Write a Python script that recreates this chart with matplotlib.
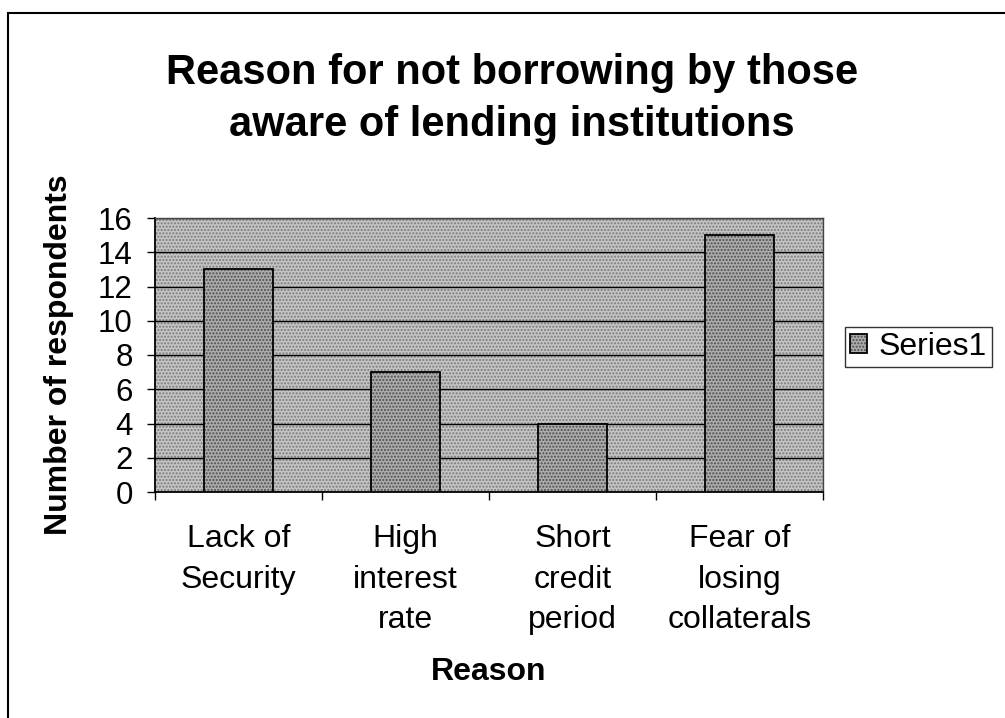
import matplotlib
matplotlib.use("Agg")
import matplotlib.pyplot as plt
from matplotlib.patches import Rectangle

categories = ["Lack of\nSecurity", "High\ninterest\nrate", "Short\ncredit\nperiod", "Fear of\nlosing\ncollaterals"]
values = [13, 7, 4, 15]
series_name = "Series1"
yticks = [0, 2, 4, 6, 8, 10, 12, 14, 16]

plt.rcParams['font.family'] = ['Liberation Sans', 'DejaVu Sans']
plt.rcParams['hatch.linewidth'] = 1.0

fig = plt.figure(figsize=(10.05, 7.18), dpi=100)
fig.patch.set_facecolor('white')

# outer chart frame
fig.patches.append(Rectangle((8/1005, -0.05), 1.1, 1 - 13/718 + 0.05, transform=fig.transFigure,
                             fill=False, edgecolor='black', linewidth=1.5))

ax = fig.add_axes([155/1005, 1 - 492/718, 668/1005, 274/718])
ax.set_facecolor('#c4c4c4')
# stippled plot-area background
bg = Rectangle((0, 0), 1, 1, transform=ax.transAxes, facecolor='#c4c4c4',
               edgecolor='#7a7a7a', hatch='.....', linewidth=0, zorder=0)
ax.add_patch(bg)

x = list(range(len(categories)))
bars = ax.bar(x, values, width=0.41, color='#acacac', edgecolor='black', linewidth=1.3,
              hatch='.....', label=series_name, zorder=3)
for b in bars:
    b._hatch_color = (0.3, 0.3, 0.3, 1)

ax.set_xlim(-0.5, 3.5)
ax.set_ylim(0, 16)
ax.set_yticks(yticks)
ax.set_yticklabels([str(v) for v in yticks], fontsize=22.5)
ax.yaxis.grid(True, color='black', linewidth=1.0, zorder=1)
ax.set_axisbelow(True)
ax.tick_params(axis='y', direction='out', length=6, width=1, pad=10)

ax.set_xticks(x)
ax.set_xticklabels(categories, fontsize=23, linespacing=1.46, va='top')
ax.tick_params(axis='x', which='major', length=0, pad=23)
ax.set_xticks([-0.5, 0.5, 1.5, 2.5, 3.5], minor=True)
ax.tick_params(axis='x', which='minor', direction='out', length=6, width=1)

for s in ['left', 'bottom']:
    ax.spines[s].set_color('black')
    ax.spines[s].set_linewidth(1.3)
for s in ['top', 'right']:
    ax.spines[s].set_color('#444444')
    ax.spines[s].set_linewidth(1.0)

ax.set_ylabel("Number of respondents", fontsize=23, fontweight='bold', labelpad=17)
ax.set_xlabel("Reason", fontsize=23, fontweight='bold', labelpad=16)

fig.text(512/1005, 1 - 99/718, "Reason for not borrowing by those\naware of lending institutions",
         ha='center', va='center', fontsize=30, fontweight='bold', linespacing=1.4)

leg = ax.legend(loc='center left', bbox_to_anchor=(845/1005, 1 - 347/718), bbox_transform=fig.transFigure,
                fontsize=23, frameon=True, fancybox=False, edgecolor='black', handlelength=0.55,
                handleheight=0.55, handletextpad=0.35, borderpad=0.15, borderaxespad=0)
leg.get_frame().set_linewidth(1.0)

fig.savefig("out.png", dpi=100, facecolor='white')
